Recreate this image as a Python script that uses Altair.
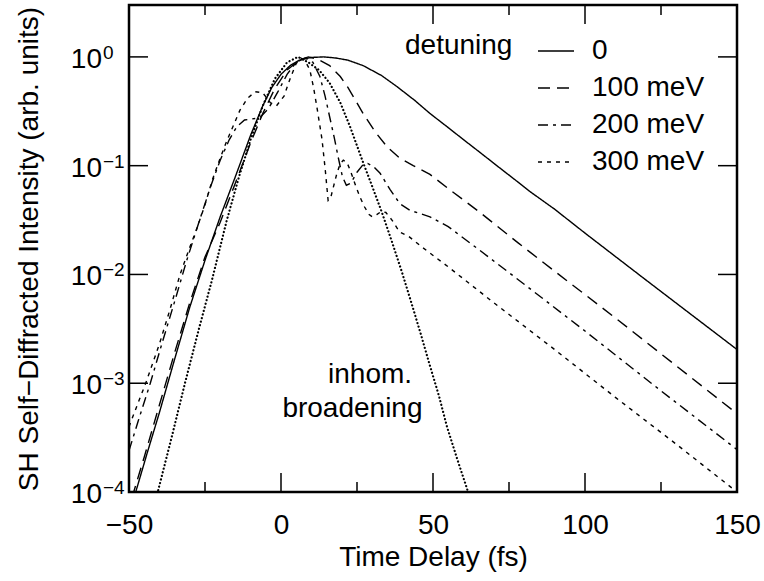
import altair as alt
import pandas as pd

# ---------------- data ----------------
# time delay (fs) and log10 of the SH self-diffracted intensity
t_0 = [-48, -44, -40, -35, -30, -25, -20, -15, -10, -6, -3, 0, 3, 6, 10, 14, 18, 22, 27, 33,
       38, 44, 49, 55, 60, 66, 71, 77, 82, 90, 100, 120, 150]
lg_0 = [-4.02, -3.64, -3.27, -2.78, -2.30, -1.87, -1.47, -1.10, -0.72, -0.45, -0.28, -0.16, -0.08,
        -0.03, -0.005, 0.0, -0.01, -0.03, -0.08, -0.17, -0.27, -0.40, -0.52, -0.65, -0.76, -0.89,
        -1.00, -1.13, -1.24, -1.40, -1.62, -2.05, -2.69]

t_100 = [-49, -45, -40, -35, -30, -25, -20, -15, -10, -6, -2, 2, 6, 9, 12, 16, 19.5, 22, 24.5, 27,
         31, 35, 39, 43.5, 49, 55, 65, 78, 90, 110, 130, 150]
lg_100 = [-4.05, -3.68, -3.20, -2.72, -2.26, -1.84, -1.52, -1.16, -0.79, -0.52, -0.29, -0.12, -0.03,
          0.0, -0.02, -0.08, -0.18, -0.28, -0.40, -0.52, -0.69, -0.83, -0.93, -1.00, -1.08, -1.21,
          -1.42, -1.71, -1.97, -2.40, -2.84, -3.28]

t_200 = [-50, -47, -43, -39, -35, -31, -27, -23, -20, -17, -14.5, -12, -9.5, -7, -4, -1, 2, 5, 8,
         10.5, 12.8, 14.5, 16, 17.5, 18.8, 20.2, 21.5, 23, 25, 27, 28.5, 30.5, 32.6, 35.9, 39.1,
         42.4, 45.7, 49, 55, 65, 80, 100, 125, 150]
lg_200 = [-3.62, -3.35, -3.00, -2.62, -2.25, -1.87, -1.52, -1.18, -0.95, -0.76, -0.64, -0.58, -0.57,
          -0.56, -0.47, -0.32, -0.16, -0.05, -0.01, -0.05, -0.18, -0.36, -0.55, -0.74, -0.92, -1.10,
          -1.18, -1.16, -1.06, -0.99, -0.98, -1.01, -1.07, -1.22, -1.35, -1.41, -1.44, -1.47, -1.56,
          -1.77, -2.09, -2.52, -3.07, -3.61]

t_300 = [-50, -47, -44.5, -40, -36.5, -33.2, -30, -27.6, -25, -22.7, -20, -17.8, -15.5, -13.5, -11,
         -8.5, -6, -3.5, -1.5, 1, 3, 5, 6.5, 8, 9.5, 10.7, 11.8, 13.5, 14.6, 15.5, 16.3, 17.2, 18.4,
         19.5, 20.5, 21.7, 23, 24.5, 26, 27.5, 29, 30, 31.5, 33, 34.5, 36.5, 39, 42, 46, 55, 70, 90,
         110, 130, 150]
lg_300 = [-3.40, -3.18, -3.00, -2.64, -2.32, -2.00, -1.75, -1.57, -1.36, -1.14, -0.93, -0.77, -0.62,
          -0.49, -0.38, -0.32, -0.33, -0.42, -0.45, -0.36, -0.20, -0.06, -0.01, -0.04, -0.12, -0.28,
          -0.46, -0.76, -1.05, -1.32, -1.30, -1.20, -1.07, -0.98, -0.95, -0.97, -1.06, -1.18, -1.29,
          -1.38, -1.45, -1.47, -1.45, -1.42, -1.43, -1.50, -1.61, -1.65, -1.74, -1.93, -2.26, -2.69,
          -3.13, -3.56, -4.00]

t_inh = [-41, -36, -31.6, -27, -22.7, -18, -14, -10, -6, -2, 2, 5.6, 9, 12.5, 16, 19.5, 22.7, 27, 30,
         33.2, 36.5, 39.8, 43.1, 46, 49, 52, 54.6, 58, 61.2, 62.5]
lg_inh = [-4.05, -3.50, -3.00, -2.50, -2.05, -1.52, -1.12, -0.76, -0.45, -0.20, -0.05, 0.0, -0.05,
          -0.12, -0.24, -0.42, -0.64, -0.97, -1.19, -1.43, -1.70, -1.98, -2.28, -2.55, -2.84, -3.12,
          -3.40, -3.70, -3.97, -4.10]

detunings = ["0", "100 meV", "200 meV", "300 meV"]
dash_styles = [[1, 0], [12, 7], [10, 5, 3, 5], [4, 5]]

x_major = [-50, 0, 50, 100, 150]
x_minor = [-25, 25, 75, 125]
y_exponents = [0, -1, -2, -3, -4]
y_sup = ["0", "\u22121", "\u22122", "\u22123", "\u22124"]

annot_t = [29.3, 23.5]
annot_lg = [-3.0, -3.31]
annot_txt = ["inhom.", "broadening"]

# ---------------- tables ----------------
rows = []
for name, ts, ls in [("0", t_0, lg_0), ("100 meV", t_100, lg_100),
                     ("200 meV", t_200, lg_200), ("300 meV", t_300, lg_300)]:
    for t, l in zip(ts, ls):
        rows.append({"t": t, "v": 10 ** l, "detuning": name})
df_lines = pd.DataFrame(rows)
df_inh = pd.DataFrame({"t": t_inh, "v": [10 ** l for l in lg_inh]})
df_xmaj = pd.DataFrame({"t": x_major})
df_xmin = pd.DataFrame({"t": x_minor})
df_y = pd.DataFrame({"v": [10.0 ** e for e in y_exponents], "base": ["10"] * 5, "sup": y_sup})
df_ann = pd.DataFrame({"t": annot_t, "v": [10 ** l for l in annot_lg], "txt": annot_txt})

W, H = 608, 487
FONT = "Liberation Sans"
BLACK = "#000000"

xs = alt.Scale(domain=[-50, 150], nice=False, zero=False)
ys = alt.Scale(type="log", domain=[1e-4, 3.0], nice=False)

X = alt.X("t:Q", scale=xs, axis=alt.Axis(
    values=x_major, ticks=False, tickSize=0, domain=False, grid=False, labelFlush=False,
    labelOverlap=False, labelFontSize=28, labelFont=FONT, labelColor=BLACK, labelPadding=19,
    title="Time Delay (fs)", titleFontSize=28, titleFont=FONT, titleFontWeight="normal",
    titleColor=BLACK, titlePadding=4))
Y = alt.Y("v:Q", scale=ys, axis=alt.Axis(
    labels=False, ticks=False, tickSize=0, domain=False, grid=False,
    title="SH Self\u2212Diffracted Intensity (arb. units)", titleFontSize=28, titleFont=FONT,
    titleFontWeight="normal", titleColor=BLACK, titlePadding=86))

lines = alt.Chart(df_lines).mark_line(color=BLACK, strokeWidth=1.4, clip=True).encode(
    x=X, y=Y,
    strokeDash=alt.StrokeDash("detuning:N", scale=alt.Scale(domain=detunings, range=dash_styles),
        legend=alt.Legend(orient="none", legendX=276, legendY=27, direction="vertical",
                          title="detuning", titleOrient="left", titleAnchor="start",
                          titleBaseline="top", titleFont=FONT, titleFontSize=28,
                          titleFontWeight="normal", titleColor=BLACK, titlePadding=24,
                          labelFont=FONT, labelFontSize=28, labelColor=BLACK, labelOffset=17,
                          symbolType="stroke", symbolSize=1296, symbolStrokeWidth=1.4,
                          symbolStrokeColor=BLACK, rowPadding=4, padding=0)),
)

inh = alt.Chart(df_inh).mark_line(color=BLACK, strokeWidth=2.2, strokeDash=[0.1, 3.6],
                                  strokeCap="round", clip=True).encode(
    x=alt.X("t:Q", scale=xs, axis=None), y=alt.Y("v:Q", scale=ys, axis=None))

def xticks(df, length, top):
    if top:
        yv, y2v = alt.value(0), alt.value(length)
    else:
        yv, y2v = alt.value(H), alt.value(H - length)
    return alt.Chart(df).mark_rule(color=BLACK, strokeWidth=1.5).encode(
        x=alt.X("t:Q", scale=xs, axis=None), y=yv, y2=y2v)

def yticks(left):
    if left:
        xv, x2v = alt.value(0), alt.value(19)
    else:
        xv, x2v = alt.value(W), alt.value(W - 19)
    return alt.Chart(df_y).mark_rule(color=BLACK, strokeWidth=1.5).encode(
        y=alt.Y("v:Q", scale=ys, axis=None), x=xv, x2=x2v)

ylab_base = alt.Chart(df_y).mark_text(align="right", baseline="alphabetic", font=FONT,
                                      fontSize=28, dy=11, color=BLACK).encode(
    x=alt.value(-27), y=alt.Y("v:Q", scale=ys, axis=None), text="base:N")
ylab_sup = alt.Chart(df_y).mark_text(align="left", baseline="alphabetic", font=FONT,
                                     fontSize=19, dy=2, color=BLACK).encode(
    x=alt.value(-26), y=alt.Y("v:Q", scale=ys, axis=None), text="sup:N")

ann = alt.Chart(df_ann).mark_text(align="center", baseline="alphabetic", font=FONT,
                                  fontSize=28, color=BLACK).encode(
    x=alt.X("t:Q", scale=xs, axis=None), y=alt.Y("v:Q", scale=ys, axis=None), text="txt:N")

chart = alt.layer(
    lines, inh,
    xticks(df_xmaj, 19, False), xticks(df_xmin, 10, False),
    xticks(df_xmaj, 19, True), xticks(df_xmin, 10, True),
    yticks(True), yticks(False),
    ylab_base, ylab_sup, ann,
).resolve_axis(
    x="independent", y="independent"
).properties(
    width=W, height=H,
    autosize=alt.AutoSizeParams(type="none"),
    padding={"left": 129, "top": 5, "right": 27, "bottom": 89},
    background="white",
).configure_view(stroke=BLACK, strokeWidth=2.5)

chart.save("out.html", embed_options={"renderer": "svg", "actions": False})
